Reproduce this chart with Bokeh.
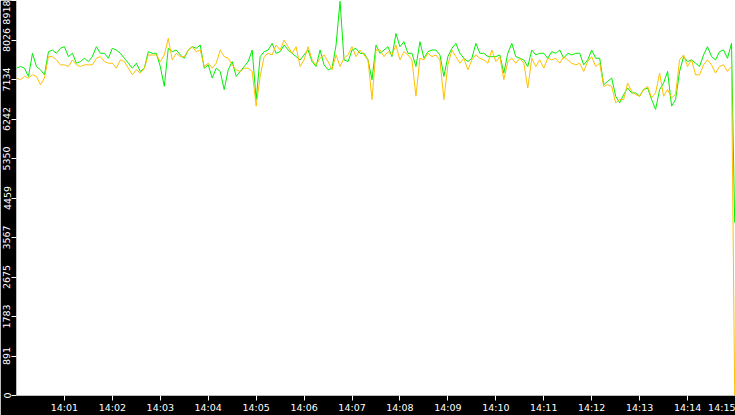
from datetime import datetime, timedelta, timezone
from bokeh.plotting import figure
from bokeh.models import Range1d, FixedTicker, DatetimeTickFormatter
from bokeh.embed import file_html
from bokeh.resources import INLINE

# ---- data ----
start = datetime(2024, 1, 1, 14, 0, 0)
step_s = 5  # sampling interval of the series below, seconds

green = [
    7390, 7428, 7390, 7204, 7726, 7428, 7353, 7241, 7763, 7800,
    7726, 7838, 7875, 7651, 7726, 7502, 7539, 7614, 7539, 7651,
    7875, 7726, 7726, 7614, 7838, 7800, 7726, 7614, 7502, 7390,
    7502, 7316, 7390, 7763, 7726, 7726, 7428, 6980, 7838, 7763,
    7800, 7689, 7614, 7800, 7875, 7838, 7912,
    7390, 7465, 7167, 7390, 7316, 6906, 7353, 7539, 7204, 7316,
    7428, 7539, 7800, 6682, 7651, 7763, 7800, 7950, 7726, 7763,
    7912, 7800, 7726, 7651, 7577, 7689, 7800, 7539, 7428, 7800,
    7465, 7353, 7390, 7912, 8900, 7577, 7539, 7800, 7838, 7726,
    7726, 7577, 7129, 7912, 7726,
    7800, 7875, 7651, 8173, 7875, 7987, 7726, 7726, 7428, 7987,
    7614, 7763, 7800, 7800, 7689, 7204, 7651, 7838, 7950, 7726,
    7614, 7539, 7614, 7950, 7726, 7726, 7651, 7651, 7651, 7689,
    7278, 7726, 7950, 7651, 7614, 7577, 7428, 7800, 7689, 7726,
    7726, 7614, 7763, 7726, 7800,
    7614, 7726, 7689, 7726, 7726, 7465, 7577, 7800, 7614, 7614,
    7017, 7092, 7167, 6757, 6607, 6794, 6943, 6831, 6831, 6757,
    6906, 6943, 6682, 6458, 6906, 7055, 7316, 6533, 6682, 7316,
    7651, 7539, 7577, 7502, 7428, 7689, 7875, 7651, 7577, 7763,
    7800, 7614, 7950,
]

orange = [
    7167, 7129, 7204, 7167, 7241, 7204, 7017, 7167, 7651, 7651,
    7577, 7465, 7465, 7428, 7577, 7465, 7428, 7465, 7465, 7465,
    7614, 7651, 7539, 7502, 7502, 7390, 7577, 7539, 7390, 7241,
    7353, 7278, 7390, 7689, 7689, 7689, 7539, 7689, 8061, 7577,
    7726, 7651, 7651, 7800, 7875, 7763, 7800,
    7428, 7502, 7390, 7502, 7800, 7651, 7614, 7465, 7353, 7316,
    7390, 7390, 7316, 6533, 7204, 7651, 7726, 7689, 7912, 7800,
    8024, 7875, 7726, 7875, 7428, 7577, 7875, 7577, 7465, 7614,
    7689, 7539, 7353, 7689, 7428, 7614, 7689, 7875, 7651, 7800,
    7689, 7577, 6682, 7800, 7800,
    7651, 7763, 7689, 7912, 7577, 7763, 7689, 7577, 6757, 7614,
    7577, 7726, 7651, 7689, 7577, 6682, 7465, 7800, 7651, 7502,
    7614, 7353, 7577, 7689, 7614, 7577, 7502, 7800, 7539, 7651,
    7129, 7539, 7614, 7502, 7614, 7502, 6943, 7614, 7428, 7577,
    7390, 7614, 7577, 7614, 7502,
    7651, 7577, 7502, 7465, 7502, 7316, 7539, 7651, 7428, 7502,
    6980, 7017, 6980, 6607, 6682, 6682, 7055, 6868, 6794, 6757,
    6906, 6980, 6719, 6831, 7278, 6757, 6906, 6719, 6794, 7577,
    7689, 7428, 7577, 7241, 7241, 7465, 7577, 7465, 7278, 7428,
    7465, 7316, 7428,
]

end_offset_s = 899
green_end = 3900
orange_end = 0

y_ticks = [0, 891, 1783, 2675, 3567, 4459, 5350, 6242, 7134, 8026, 8918]
x_tick_minutes = list(range(1, 16))
span_s = 900

# ---- build ----
secs = [i * step_s for i in range(len(green))] + [end_offset_s]
times = [start + timedelta(seconds=s) for s in secs]
g_vals = green + [green_end]
o_vals = orange + [orange_end]

start_ms = start.replace(tzinfo=timezone.utc).timestamp() * 1000.0
x_ticks = [start_ms + m * 60000.0 for m in x_tick_minutes]

p = figure(
    width=735, height=415,
    x_axis_type="datetime",
    x_range=Range1d(start, start + timedelta(seconds=span_s)),
    y_range=Range1d(0, 8918),
    output_backend="svg", toolbar_location=None,
    min_border_left=15, min_border_bottom=16,
    min_border_top=0, min_border_right=0,
    border_fill_color="black", background_fill_color="white",
    outline_line_color=None,
)
p.grid.visible = False

p.line(times, g_vals, line_color="#00ee00", line_width=1)
p.line(times, o_vals, line_color="#ffbf00", line_width=1)

for ax in (p.xaxis[0], p.yaxis[0]):
    ax.axis_line_color = None
    ax.major_tick_line_color = "white"
    ax.major_tick_out = 5
    ax.major_tick_in = 0
    ax.minor_tick_line_color = None
    ax.major_label_text_color = "white"
    ax.major_label_text_font = "DejaVu Sans"
    ax.major_label_text_font_size = "9.5px"
    ax.major_label_standoff = 1

p.yaxis[0].ticker = FixedTicker(ticks=y_ticks)
p.yaxis[0].major_label_orientation = "vertical"
p.xaxis[0].ticker = FixedTicker(ticks=x_ticks)
p.xaxis[0].formatter = DatetimeTickFormatter(
    seconds="%H:%M", minsec="%H:%M", minutes="%H:%M",
    hourmin="%H:%M", hours="%H:%M", context=None,
)

open("out.html", "w").write(file_html(p, INLINE))
